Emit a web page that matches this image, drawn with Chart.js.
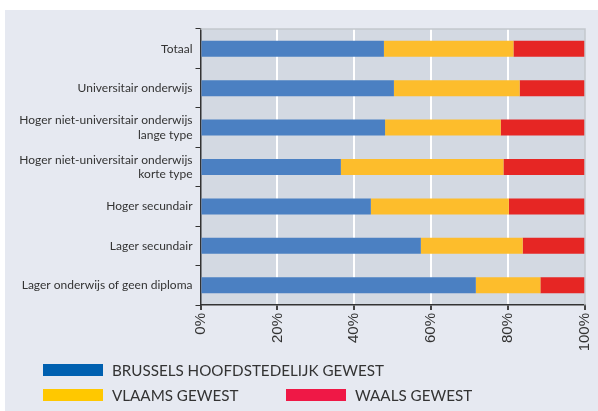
<!DOCTYPE html>
<html>
<head>
<meta charset="utf-8">
<script src="https://cdn.jsdelivr.net/npm/chart.js@4/dist/chart.umd.min.js"></script>
<style>
  html, body { margin: 0; padding: 0; background: #ffffff; }
  body { width: 598px; height: 411px; position: relative; overflow: hidden; }
  #panel { position: absolute; left: 5px; top: 10px; width: 593px; height: 401px; background: #e6e9f1; }
  #eduChart { position: absolute; left: 0; top: 0; }
  .legend-item { position: absolute; font-family: Lato, "Open Sans", sans-serif; font-size: 15.2px; color: #333333; line-height: 16px; white-space: nowrap; }
  .legend-item span.box { position: absolute; left: 0; top: 2px; width: 60px; height: 12px; }
  .legend-item span.txt { position: absolute; left: 69px; top: 0; }
</style>
</head>
<body>
<div id="panel">
  <canvas id="eduChart" width="593" height="401"></canvas>
  <div id="legend"></div>
</div>
<script>
// Opleidingsniveau: aandeel per gewest (in %)
const categories = [
    'Totaal',
    'Universitair onderwijs',
    ['Hoger niet-universitair onderwijs', 'lange type'],
    ['Hoger niet-universitair onderwijs', 'korte type'],
    'Hoger secundair',
    'Lager secundair',
    'Lager onderwijs of geen diploma'
];
const seriesNames = ['BRUSSELS HOOFDSTEDELIJK GEWEST', 'VLAAMS GEWEST', 'WAALS GEWEST'];
const brussel = [47.7, 50.3, 48.0, 36.5, 44.3, 57.3, 71.6];
const vlaanderen = [33.7, 32.7, 30.1, 42.3, 35.9, 26.5, 16.8];
const wallonie = [18.6, 17.0, 21.9, 21.2, 19.8, 16.2, 11.6];
const xTicks = [0, 20, 40, 60, 80, 100];

const barColors = ['#4b80c2', '#fdbd2c', '#e62624'];
const legendColors = ['#0060b0', '#ffc800', '#ef1846'];

// Legenda als HTML onder de grafiek
const legendPos = [
    { left: 38, top: 352 },
    { left: 38, top: 377 },
    { left: 281, top: 377 }
];
const legend = document.getElementById('legend');
seriesNames.forEach((name, i) => {
    const item = document.createElement('div');
    item.className = 'legend-item';
    item.style.left = legendPos[i].left + 'px';
    item.style.top = legendPos[i].top + 'px';
    item.innerHTML = '<span class="box" style="background:' + legendColors[i] + '"></span><span class="txt">' + name + '</span>';
    legend.appendChild(item);
});

// Achtergrond en rand van het plotgebied
const plotArea = {
    id: 'plotArea',
    beforeDraw(chart) {
        const { ctx, chartArea: a } = chart;
        ctx.save();
        ctx.fillStyle = '#d3d9e2';
        ctx.fillRect(a.left, a.top, a.right - a.left, a.bottom - a.top);
        ctx.restore();
    },
    afterDraw(chart) {
        const { ctx, chartArea: a } = chart;
        ctx.save();
        ctx.strokeStyle = '#c3c7cd';
        ctx.lineWidth = 1.5;
        ctx.beginPath();
        ctx.moveTo(a.left, a.top);
        ctx.lineTo(a.right, a.top);
        ctx.lineTo(a.right, a.bottom);
        ctx.stroke();
        ctx.restore();
    }
};

const ctx = document.getElementById('eduChart').getContext('2d');
new Chart(ctx, {
    type: 'bar',
    data: {
        labels: categories,
        datasets: [brussel, vlaanderen, wallonie].map((values, i) => ({
            label: seriesNames[i],
            data: values,
            backgroundColor: barColors[i],
            borderWidth: 0,
            barPercentage: 1,
            categoryPercentage: 0.406
        }))
    },
    options: {
        indexAxis: 'y',
        responsive: false,
        animation: false,
        devicePixelRatio: 1,
        layout: { padding: { top: 19, right: 13, left: 0, bottom: 46 } },
        plugins: {
            legend: { display: false },
            tooltip: { enabled: false }
        },
        scales: {
            x: {
                stacked: true,
                min: 0,
                max: 100,
                afterBuildTicks(scale) {
                    scale.ticks = xTicks.map(v => ({ value: v }));
                },
                afterFit(scale) {
                    scale.height = 60;
                    scale.paddingLeft = 0;
                    scale.paddingRight = 0;
                },
                grid: {
                    color: ctx => (ctx.tick && (ctx.tick.value === 0 || ctx.tick.value === 100)) ? 'rgba(0,0,0,0)' : '#ffffff',
                    lineWidth: 2,
                    tickColor: '#444444',
                    tickLength: 5
                },
                border: { color: '#333333', width: 1.5 },
                ticks: {
                    minRotation: 90,
                    maxRotation: 90,
                    padding: 3,
                    color: '#333333',
                    font: { family: '"Liberation Sans", sans-serif', size: 15 },
                    callback: v => v + '%'
                }
            },
            y: {
                stacked: true,
                afterFit(scale) { scale.width = 195.5; },
                grid: {
                    drawOnChartArea: false,
                    tickColor: '#333333',
                    tickLength: 5,
                    offset: true
                },
                border: { color: '#333333', width: 1.5 },
                ticks: {
                    padding: 3,
                    color: '#333333',
                    font: { family: 'Lato, sans-serif', size: 12 }
                }
            }
        }
    },
    plugins: [plotArea]
});
</script>
</body>
</html>
